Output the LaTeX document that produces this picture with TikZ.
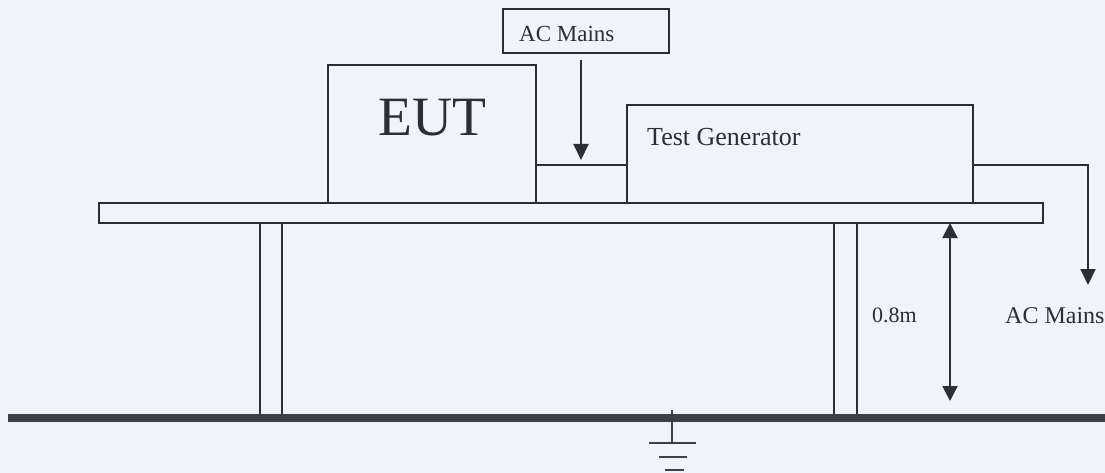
\documentclass[tikz,border=0pt]{standalone}
\usepackage{fontspec}
\setmainfont{Liberation Serif}
\usetikzlibrary{arrows.meta}
\definecolor{bg}{HTML}{F0F4F9}
\definecolor{ink}{HTML}{2B2F35}
\definecolor{gnd}{HTML}{3A4048}
\tikzset{
  box/.style={draw=ink, line width=2pt, inner sep=0pt, fill=none},
  wire/.style={draw=ink, line width=2pt},
  arr/.style={wire, -{Triangle[width=15pt,length=16pt]}},
  dim/.style={wire, {Triangle[width=15pt,length=15pt]}-{Triangle[width=15pt,length=15pt]}},
  txt/.style={inner sep=0pt, anchor=base west, text=ink},
}
\begin{document}
\begin{tikzpicture}[x=1pt,y=-1pt]
\path[fill=bg] (0,0) rectangle (1105,473);
\useasboundingbox (0,0) rectangle (1105,473);
% boxes
\node[box, minimum width=166pt, minimum height=44pt] (acbox) at (586,31) {};
\node[box, minimum width=208pt, minimum height=138pt] (eut) at (432,134) {};
\node[box, minimum width=346pt, minimum height=98pt] (tg) at (800,154) {};
\node[box, minimum width=944pt, minimum height=20pt] (table) at (571,213) {};
% texts
\node[txt, font=\fontsize{23}{23}\selectfont] (actop) at (519,42) {AC Mains};
\node[txt, font=\fontsize{55.5}{55.5}\selectfont] (euttxt) at (378,136) {EUT};
\node[txt, font=\fontsize{26}{26}\selectfont] (tgtxt) at (647,146) {Test Generator};
\node[txt, font=\fontsize{22}{22}\selectfont] (h) at (872,322) {0.8m};
\node[txt, font=\fontsize{24}{24}\selectfont] (acright) at (1005,323) {AC Mains};
% legs
\coordinate (l1t) at (260,223); \coordinate (l1b) at (260,414);
\coordinate (l2t) at (282,223); \coordinate (l2b) at (282,414);
\coordinate (l3t) at (834,223); \coordinate (l3b) at (834,414);
\coordinate (l4t) at (857,223); \coordinate (l4b) at (857,414);
\draw[wire] (l1t) -- (l1b);
\draw[wire] (l2t) -- (l2b);
\draw[wire] (l3t) -- (l3b);
\draw[wire] (l4t) -- (l4b);
% ground
\coordinate (g1) at (8,418); \coordinate (g2) at (1105,418);
\draw[draw=gnd, line width=8pt] (g1) -- (g2);
\coordinate (gs) at (672,410); \coordinate (ge) at (672,443);
\draw[wire, draw=gnd] (gs) -- (ge);
\draw[wire, draw=gnd] (649,443) -- (696,443);
\draw[wire, draw=gnd] (659,457) -- (687,457);
\draw[wire, draw=gnd] (665,470) -- (684,470);
% connections
\coordinate (a1) at (581,60);
\coordinate (a2) at (581,160);
\draw[arr] (a1) -- (a2);
\draw[wire] (eut.east |- 0,165) -- (tg.west |- 0,165);
\coordinate (r1) at (1088,165);
\coordinate (r2) at (1088,285);
\draw[arr] (tg.east |- r1) -- (r1) -- (r2);
\coordinate (d1) at (950,223);
\coordinate (d2) at (950,401);
\draw[dim] (d1) -- (d2);
\end{tikzpicture}
\end{document}
